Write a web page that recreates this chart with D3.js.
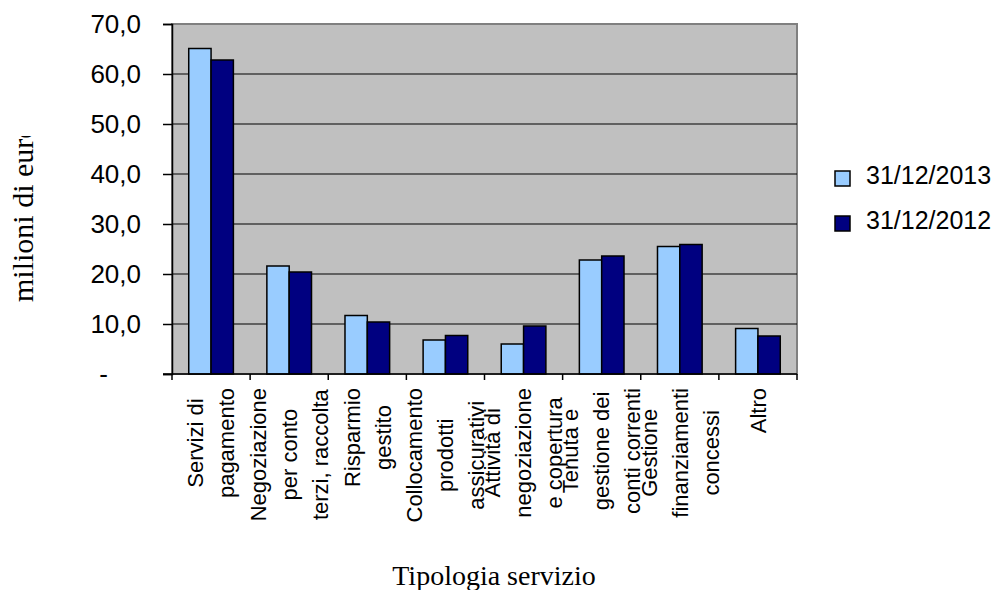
<!DOCTYPE html>
<html>
<head>
<meta charset="utf-8">
<script src="https://cdn.jsdelivr.net/npm/d3@7"></script>
<style>
  body { margin: 0; background: #fff; }
  svg { display: block; }
</style>
</head>
<body>
<svg id="chart" width="996" height="590"></svg>
<script>
// data
var categories = ["Servizi di pagamento", "Negoziazione per conto terzi, raccolta", "Risparmio gestito",
  "Collocamento prodotti assicurativi", "Attività di negoziazione e copertura",
  "Tenuta e gestione dei conti correnti", "Gestione finanziamenti concessi", "Altro"]
// label lines as wrapped in the picture
var categoryLines = [
  ["Servizi di", "pagamento"],
  ["Negoziazione", "per conto", "terzi, raccolta"],
  ["Risparmio", "gestito"],
  ["Collocamento", "prodotti", "assicurativi"],
  ["Attività di", "negoziazione", "e copertura"],
  ["Tenuta e", "gestione dei", "conti correnti"],
  ["Gestione", "finanziamenti", "concessi"],
  ["Altro"]
]
var seriesNames = ["31/12/2013", "31/12/2012"]
var values2013 = [65.1, 21.6, 11.7, 6.8, 6.0, 22.8, 25.5, 9.1]
var values2012 = [62.8, 20.4, 10.4, 7.7, 9.6, 23.6, 25.9, 7.6]
var yTicks = [0, 10, 20, 30, 40, 50, 60, 70]
var colors = ["#99ccff", "#000080"]

var svg = d3.select("#chart")
var plot = { left: 172, right: 797, top: 24, bottom: 374 }

var x = d3.scaleBand().domain(categories).range([plot.left, plot.right]).padding(0)
var x1 = d3.scaleBand().domain(seriesNames).range([0, x.bandwidth()]).paddingInner(0).paddingOuter(0.75)
var y = d3.scaleLinear().domain([0, 70]).range([plot.bottom, plot.top])
var color = d3.scaleOrdinal().domain(seriesNames).range(colors)

var rows = categories.map(function(c, i) {
  return { cat: c, vals: [values2013[i], values2012[i]] }
})

// plot area
svg.append("rect")
  .attr("x", plot.left).attr("y", plot.top)
  .attr("width", plot.right - plot.left).attr("height", plot.bottom - plot.top)
  .attr("fill", "#c0c0c0")
  .attr("stroke", "#808080")
  .attr("stroke-width", 2)

// gridlines
svg.append("g")
  .selectAll("line")
  .data(yTicks.filter(function(d) { return d > 0 && d < 70 }))
  .enter().append("line")
  .attr("x1", plot.left).attr("x2", plot.right)
  .attr("y1", function(d) { return y(d) }).attr("y2", function(d) { return y(d) })
  .attr("stroke", "#000").attr("stroke-width", 1)

// bars
svg.append("g")
  .selectAll("g")
  .data(rows)
  .enter().append("g")
  .attr("transform", function(d) { return "translate(" + x(d.cat) + ",0)" })
  .selectAll("rect")
  .data(function(d) { return d.vals.map(function(v, i) { return { key: seriesNames[i], v: v } }) })
  .enter().append("rect")
  .attr("x", function(d) { return x1(d.key) })
  .attr("y", function(d) { return y(d.v) })
  .attr("width", x1.bandwidth())
  .attr("height", function(d) { return y(0) - y(d.v) })
  .attr("fill", function(d) { return color(d.key) })
  .attr("stroke", "#000")
  .attr("stroke-width", 1.5)

// y axis
var yAxis = d3.axisLeft(y)
  .tickValues(yTicks)
  .tickSize(9)
  .tickPadding(22)
  .tickFormat(function(d) { return d === 0 ? "-" : d.toFixed(1).replace(".", ",") })
var yg = svg.append("g")
  .attr("transform", "translate(" + plot.left + ",0)")
  .call(yAxis)
yg.select(".domain").attr("stroke", "#000").attr("stroke-width", 1.5)
yg.selectAll(".tick line").attr("stroke", "#000").attr("stroke-width", 1.5)
yg.selectAll(".tick text")
  .style("font-family", "'Liberation Sans', Arial, sans-serif")
  .style("font-size", "26px")
  .attr("fill", "#000")
  .filter(function(d) { return d === 0 }).attr("x", -64)

// x axis
var xg = svg.append("g")
xg.append("line")
  .attr("x1", plot.left - 9).attr("x2", plot.right)
  .attr("y1", plot.bottom).attr("y2", plot.bottom)
  .attr("stroke", "#000").attr("stroke-width", 1.5)
var bounds = categories.map(function(c) { return x(c) }).concat([x.range()[1]])
xg.selectAll(".xt")
  .data(bounds)
  .enter().append("line")
  .attr("class", "xt")
  .attr("x1", function(d) { return d }).attr("x2", function(d) { return d })
  .attr("y1", plot.bottom).attr("y2", plot.bottom + 6)
  .attr("stroke", "#000").attr("stroke-width", 1.5)

// category labels, rotated, lines stacked across the band
var lineGap = 31
var labelTop = 388
categoryLines.forEach(function(lines, ci) {
  var cx = x(categories[ci]) + x.bandwidth() / 2
  var g = xg.append("g")
  var texts = g.selectAll("text")
    .data(lines)
    .enter().append("text")
    .text(function(d) { return d })
    .attr("text-anchor", "middle")
    .attr("dy", "0.35em")
    .style("font-family", "'Liberation Sans', Arial, sans-serif")
    .style("font-size", "22px")
    .attr("fill", "#000")
  var maxLen = 0
  texts.each(function() { maxLen = Math.max(maxLen, this.getComputedTextLength()) })
  texts.attr("transform", function(d, i) {
    var lx = cx + (i - (lines.length - 1) / 2) * lineGap
    return "translate(" + lx + "," + (labelTop + maxLen / 2) + ") rotate(-90)"
  })
})

// axis titles (y title is cut off at the top, as in the source)
svg.append("defs").append("clipPath").attr("id", "yclip")
  .append("rect").attr("x", 0).attr("y", 136).attr("width", 60).attr("height", 200)
svg.append("g")
  .attr("clip-path", "url(#yclip)")
  .append("text")
  .attr("transform", "translate(33,302) rotate(-90)")
  .style("font-family", "'Liberation Serif', 'Times New Roman', serif")
  .style("font-size", "30px")
  .text("milioni di euro")

svg.append("text")
  .attr("x", 494).attr("y", 585)
  .attr("text-anchor", "middle")
  .style("font-family", "'Liberation Serif', 'Times New Roman', serif")
  .style("font-size", "28px")
  .text("Tipologia servizio")

// legend
var legend = svg.append("g").attr("transform", "translate(835,171)")
var items = legend.selectAll("g")
  .data(seriesNames)
  .enter().append("g")
  .attr("transform", function(d, i) { return "translate(0," + (i * 45) + ")" })
items.append("rect")
  .attr("width", 15).attr("height", 15)
  .attr("fill", function(d) { return color(d) })
  .attr("stroke", "#000").attr("stroke-width", 1.5)
items.append("text")
  .attr("x", 31).attr("y", 13)
  .style("font-family", "'Liberation Sans', Arial, sans-serif")
  .style("font-size", "25px")
  .text(function(d) { return d })
</script>
</body>
</html>
